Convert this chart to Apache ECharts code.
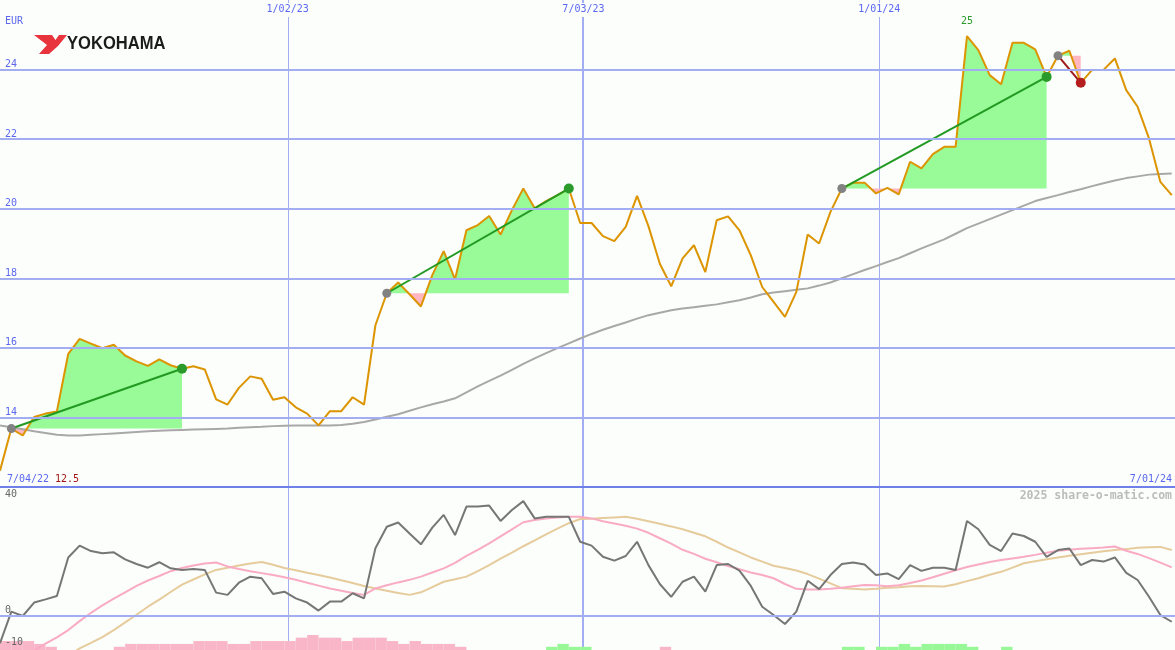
<!DOCTYPE html>
<html><head><meta charset="utf-8">
<script src="https://cdn.jsdelivr.net/npm/echarts@6/dist/echarts.min.js"></script>
<style>html,body{margin:0;padding:0;background:#fbfefb}#c{width:1175px;height:650px}</style>
</head><body><div id="c"></div>
<script>
// ---------- data ----------
const startDate = '2022-07-09';   // first weekly observation
const endDate = '2024-07-01';     // right edge of the time axis
const currency = 'EUR';
const rangeStartLabel = '7/04/22';
const rangeEndLabel = '7/01/24';
const copyright = '2025 share-o-matic.com';
const brand = 'YOKOHAMA';
const dateLines = ['2023-01-02', '2023-07-03', '2024-01-01'];
const dateLineLabels = ['1/02/23', '7/03/23', '1/01/24'];
const priceTicks = [14, 16, 18, 20, 22, 24];
const oscTicks = [40, 0, -10];

const price = [
  12.47, 13.68, 13.48, 14.01, 14.11, 14.17, 15.83, 16.26, 16.12, 15.99,
  16.09, 15.78, 15.61, 15.48, 15.67, 15.50, 15.40, 15.47, 15.38, 14.52,
  14.37, 14.85, 15.18, 15.11, 14.51, 14.58, 14.29, 14.11, 13.77, 14.18,
  14.18, 14.58, 14.37, 16.65, 17.57, 17.88, 17.54, 17.19, 18.09, 18.78,
  17.97, 19.38, 19.53, 19.79, 19.26, 19.96, 20.58, 20.01, 20.22, 20.39,
  20.58, 19.59, 19.59, 19.21, 19.07, 19.48, 20.37, 19.50, 18.42, 17.77,
  18.57, 18.95, 18.18, 19.67, 19.78, 19.38, 18.66, 17.75, 17.32, 16.89,
  17.61, 19.26, 19.00, 19.91, 20.58, 20.75, 20.75, 20.44, 20.60, 20.41,
  21.35, 21.16, 21.57, 21.78, 21.78, 24.96, 24.56, 23.84, 23.58, 24.77,
  24.77, 24.58, 23.79, 24.40, 24.54, 23.62, 23.99, 23.99, 24.32, 23.41,
  22.93, 22.02, 20.77, 20.39
];
const movingAvg = [
  13.77, 13.72, 13.66, 13.60, 13.55, 13.50, 13.48, 13.48, 13.50, 13.52,
  13.54, 13.56, 13.58, 13.60, 13.62, 13.63, 13.64, 13.65, 13.66, 13.67,
  13.68, 13.70, 13.72, 13.73, 13.75, 13.76, 13.77, 13.77, 13.77, 13.77,
  13.78, 13.82, 13.87, 13.94, 14.02, 14.09, 14.19, 14.29, 14.38, 14.46,
  14.55, 14.72, 14.89, 15.05, 15.20, 15.37, 15.54, 15.70, 15.85, 15.99,
  16.13, 16.27, 16.40, 16.52, 16.63, 16.73, 16.84, 16.94, 17.01, 17.08,
  17.13, 17.17, 17.21, 17.25, 17.31, 17.37, 17.45, 17.54, 17.59, 17.63,
  17.67, 17.71, 17.79, 17.88, 18.00, 18.12, 18.24, 18.35, 18.47, 18.58,
  18.72, 18.86, 18.99, 19.12, 19.28, 19.44, 19.57, 19.70, 19.83, 19.96,
  20.09, 20.22, 20.31, 20.39, 20.48, 20.56, 20.65, 20.73, 20.81, 20.88,
  20.93, 20.98, 21.00, 21.01
];
const momentum = [
  -8.5, 1.35, 0, 4.2, 5.2, 6.25, 18.3, 22, 20.3, 19.6,
  19.9, 17.7, 16.25, 15.1, 16.8, 14.9, 14.4, 14.7, 14.4, 7.3,
  6.6, 10.4, 12.3, 11.8, 6.9, 7.6, 5.5, 4.2, 1.7, 4.5,
  4.5, 7.1, 5.5, 21.2, 27.9, 29.2, 25.8, 22.4, 27.6, 31.6,
  25.3, 34.2, 34.2, 34.5, 29.7, 33.1, 35.9, 30.5, 31.0, 31.0,
  31.0, 23.2, 22.0, 18.5, 17.3, 18.75, 23.2, 15.9, 10.0, 6.0,
  10.7, 12.3, 7.6, 15.9, 16.25, 14.2, 9.4, 2.9, 0.3, -2.5,
  1.35, 11.0, 8.4, 12.8, 16.25, 16.7, 16.1, 12.8, 13.3, 11.5,
  15.9, 14.1, 15.1, 15.1, 14.4, 29.7, 27.1, 22.2, 20.3, 25.8,
  25.0, 23.2, 18.5, 20.6, 21.1, 15.9, 17.5, 17.0, 18.3, 13.5,
  11.25, 6.0, 0.3, -1.8
];
const fastAvg = [
  -15, -13.5, -12, -10.8, -8.6, -6.7, -4.4, -1.6, 1.0, 3.3,
  5.4, 7.4, 9.4, 11.1, 12.5, 14.0, 15.0, 15.8, 16.4, 16.7,
  15.5, 14.7, 14.0, 13.4, 12.8, 12.1, 11.3, 10.4, 9.5, 8.6,
  7.9, 7.2, 6.6, 8.6, 9.6, 10.5, 11.3, 12.3, 13.6, 14.9,
  16.6, 18.8, 20.7, 22.7, 24.9, 27.1, 29.3, 30.0, 30.5, 30.8,
  31.0, 31.0, 30.5, 29.6, 28.9, 28.2, 27.3, 26.0, 24.3, 22.6,
  20.7, 19.4, 17.9, 16.8, 15.6, 14.6, 13.6, 12.8, 11.8, 10.0,
  8.5, 8.3, 8.3, 8.5, 8.8, 9.3, 9.7, 9.6, 9.3, 9.6,
  10.3, 11.1, 12.1, 13.2, 14.3, 15.3, 16.1, 16.9, 17.5, 18.0,
  18.5, 19.1, 19.8, 20.4, 20.7, 21.0, 21.2, 21.4, 21.7, 20.4,
  19.4, 18.1, 16.7, 15.2
];
const slowAvg = [
  -22, -20.5, -19, -17.5, -16, -14.5, -12.5, -10.1, -8.4, -6.6,
  -4.4, -2.0, 0.4, 2.9, 5.1, 7.5, 9.8, 11.4, 13.0, 14.4,
  15.1, 15.8, 16.4, 16.9, 16.0, 15.0, 14.3, 13.5, 12.8, 12.0,
  11.2, 10.3, 9.4, 8.6, 7.9, 7.2, 6.6, 7.4, 9.0, 10.7,
  11.5, 12.3, 14.0, 15.9, 17.9, 19.8, 21.8, 23.6, 25.5, 27.3,
  29.0, 30.3, 30.4, 30.6, 30.8, 31.0, 30.4, 29.6, 28.8, 28.0,
  27.1, 26.0, 24.9, 23.2, 21.4, 19.9, 18.3, 17.0, 15.7, 15.0,
  14.2, 13.1, 11.7, 10.2, 8.7, 8.5, 8.3, 8.5, 8.8, 9.0,
  9.3, 9.4, 9.3, 9.2, 9.9, 10.9, 11.8, 12.9, 13.8, 15.1,
  16.5, 17.1, 17.7, 18.3, 18.8, 19.3, 19.8, 20.2, 20.6, 20.9,
  21.3, 21.5, 21.6, 20.6
];
const histogram = [
  -2.8, -2.8, -2.8, -1.9, -1.0, 0, 0, 0, 0, 0,
  -1.0, -1.9, -1.9, -1.9, -1.9, -1.9, -1.9, -2.8, -2.8, -2.8,
  -1.9, -1.9, -2.8, -2.8, -2.8, -2.8, -3.85, -4.7, -3.85, -3.85,
  -2.8, -3.85, -3.85, -3.85, -2.8, -1.9, -2.8, -1.9, -1.9, -1.9,
  -1.0, 0, 0, 0, 0, 0, 0, 0, 1.0, 1.9,
  1.0, 1.0, 0, 0, 0, 0, 0, 0, -1.0, 0,
  0, 0, 0, 0, 0, 0, 0, 0, 0, 0,
  0, 0, 0, 0, 1.0, 1.0, 0, 1.0, 1.0, 1.9,
  1.0, 1.9, 1.9, 1.9, 1.9, 1.0, 0, 0, 1.0, 0,
  0, 0, 0, 0, 0, 0, 0, 0, 0, 0,
  0, 0, 0, 0
];
const tradeStart = [1, 34, 74, 93];
const tradeEnd = [16, 50, 92, 95];

// ---------- helpers ----------
const DAY = 86400000, WEEK = 7 * DAY;
function ts(s) { const p = s.split('-').map(Number); return Date.UTC(p[0], p[1] - 1, p[2]); }
const T0 = ts(startDate), T1 = ts(endDate);
function weekTime(k) { return T0 + k * WEEK; }
const PRICE_MIN = 12, PRICE_MAX = 26;
const OSC_MIN = -10.625, OSC_MAX = 40;

const BG = '#fbfefb';
const BLUE = '#5b67ef';
const GRID = '#a3aef2';
const MONO = '"DejaVu Sans Mono", monospace';

function fmt1(v) { return String(parseFloat(v.toFixed(1))); }

function renderTradeFill(params, api) {
  const i = api.value(2);
  const s = tradeStart[i], e = tradeEnd[i];
  const base = price[s];
  const up = [], dn = [];
  for (let k = s; k <= e; k++) {
    const v = price[k];
    if (k > s) {
      const p = price[k - 1];
      if ((p - base) * (v - base) < 0) {
        const f = (base - p) / (v - p);
        const c = api.coord([weekTime(k - 1) + f * WEEK, base]);
        up.push(c); dn.push(c);
      }
    }
    up.push(api.coord([weekTime(k), Math.max(v, base)]));
    dn.push(api.coord([weekTime(k), Math.min(v, base)]));
  }
  const close = [api.coord([weekTime(e), base]), api.coord([weekTime(s), base])];
  return {
    type: 'group', children: [
      { type: 'polygon', shape: { points: up.concat(close) }, style: { fill: '#98fb98' } },
      { type: 'polygon', shape: { points: dn.concat(close) }, style: { fill: '#ffb6c1' } }
    ]
  };
}
function renderTradeMarks(params, api) {
  const i = api.value(2);
  const s = tradeStart[i], e = tradeEnd[i];
  const a = api.coord([weekTime(s), price[s]]);
  const b = api.coord([weekTime(e), price[e]]);
  const win = price[e] >= price[s];
  return {
    type: 'group', children: [
      { type: 'line', shape: { x1: a[0], y1: a[1], x2: b[0], y2: b[1] }, style: { stroke: win ? '#229a22' : '#9e1a1a', lineWidth: 2 } },
      { type: 'circle', shape: { cx: a[0], cy: a[1], r: 4.5 }, style: { fill: '#828282' } },
      { type: 'circle', shape: { cx: b[0], cy: b[1], r: 5 }, style: { fill: win ? '#2a9a2a' : '#b41e1e' } }
    ]
  };
}
function renderHist(params, api) {
  const k = api.value(2);
  const v = histogram[k];
  if (!v) return null;
  const p0 = api.coord([weekTime(k), OSC_MIN]);
  const p1 = api.coord([weekTime(k + 1), OSC_MIN + Math.abs(v)]);
  return { type: 'rect', shape: { x: p0[0], y: p1[1], width: p1[0] - p0[0], height: p0[1] - p1[1] },
           style: { fill: v > 0 ? '#98f898' : '#f9b6c9' } };
}
function makeVGrid(yMin, yMax) {
  return function (params, api) {
    const i = api.value(2);
    const w = i === 1 ? 2 : 1;
    const top = api.coord([api.value(0), yMax]);
    const bot = api.coord([api.value(0), yMin]);
    const x = w === 1 ? Math.round(top[0]) + 0.5 : Math.round(top[0]);
    return { type: 'line', shape: { x1: x, y1: top[1], x2: x, y2: bot[1] }, style: { stroke: GRID, lineWidth: w } };
  };
}

const chart = echarts.init(document.getElementById('c'), null, { renderer: 'canvas' });
const series = (arr) => arr.map((v, k) => [weekTime(k), v]);
const vgridData = (yv) => dateLines.map((d, i) => [ts(d), yv, i]);

const option = {
  animation: false,
  backgroundColor: BG,
  grid: [
    { left: 0, right: 0, top: 0, height: 487, outerBoundsMode: 'none' },
    { left: 0, right: 0, top: 488, height: 162, outerBoundsMode: 'none' }
  ],
  xAxis: [
    { type: 'time', gridIndex: 0, min: T0, max: T1,
      axisLine: { show: true, onZero: false, lineStyle: { color: '#7080ea', width: 2 } },
      axisTick: { show: false }, axisLabel: { show: false }, splitLine: { show: false } },
    { type: 'time', gridIndex: 1, min: T0, max: T1,
      axisLine: { show: false }, axisTick: { show: false }, axisLabel: { show: false }, splitLine: { show: false } }
  ],
  yAxis: [
    { type: 'value', gridIndex: 0, min: PRICE_MIN, max: PRICE_MAX, interval: 2, z: 10,
      axisLine: { show: false }, axisTick: { show: false },
      splitLine: { show: true, showMinLine: false, showMaxLine: false, lineStyle: { color: GRID, width: 2 } },
      axisLabel: { inside: true, margin: 5, verticalAlign: 'bottom', color: BLUE, fontFamily: MONO, fontSize: 10,
                   customValues: priceTicks } },
    { type: 'value', gridIndex: 1, min: OSC_MIN, max: OSC_MAX, z: 10,
      axisLine: { show: false }, axisTick: { show: false }, splitLine: { show: false },
      axisLabel: { inside: true, margin: 5, verticalAlign: 'middle', color: '#666', fontFamily: MONO, fontSize: 10,
                   customValues: oscTicks,
                   formatter: v => v === oscTicks[0] ? '{t|' + v + '}' : '{b|' + v + '}',
                   rich: {
                     t: { padding: [13, 0, 0, 0], color: '#666', fontFamily: MONO, fontSize: 10 },
                     b: { padding: [0, 0, 12, 0], color: '#666', fontFamily: MONO, fontSize: 10 }
                   } } }
  ],
  series: [
    { name: 'vgrid0', type: 'custom', xAxisIndex: 0, yAxisIndex: 0, z: 0, silent: true, clip: false,
      data: vgridData(PRICE_MAX), encode: { x: 0, y: 1 }, renderItem: makeVGrid(PRICE_MIN, PRICE_MAX) },
    { name: 'vgrid1', type: 'custom', xAxisIndex: 1, yAxisIndex: 1, z: 0, silent: true, clip: false,
      data: vgridData(OSC_MAX), encode: { x: 0, y: 1 }, renderItem: makeVGrid(OSC_MIN, OSC_MAX) },
    { name: 'zero', type: 'line', xAxisIndex: 1, yAxisIndex: 1, data: [], z: 0, silent: true,
      markLine: { silent: true, symbol: ['none', 'none'], label: { show: false },
        data: [{ yAxis: 0, lineStyle: { color: GRID, width: 2, type: 'solid' } }] } },
    { name: 'tradeFill', type: 'custom', xAxisIndex: 0, yAxisIndex: 0, z: 1, silent: true, clip: true,
      data: tradeStart.map((s, i) => [weekTime(s), price[s], i]), encode: { x: 0, y: 1 },
      renderItem: renderTradeFill },
    { name: 'ma', type: 'line', xAxisIndex: 0, yAxisIndex: 0, z: 2, data: series(movingAvg),
      symbol: 'none', lineStyle: { color: '#a8a8a8', width: 2 } },
    { name: 'price', type: 'line', xAxisIndex: 0, yAxisIndex: 0, z: 3, data: series(price),
      symbol: 'none', lineStyle: { color: '#dc9400', width: 2 },
      markPoint: { silent: true, symbolSize: 0,
        data: [{ type: 'max' }],
        label: { show: true, position: 'top', distance: 10, color: '#2a9a2a', fontFamily: MONO, fontSize: 10,
                 formatter: p => fmt1(p.value) } } },
    { name: 'tradeMarks', type: 'custom', xAxisIndex: 0, yAxisIndex: 0, z: 4, silent: true, clip: true,
      data: tradeStart.map((s, i) => [weekTime(s), price[s], i]), encode: { x: 0, y: 1 },
      renderItem: renderTradeMarks },
    { name: 'dateLabels', type: 'line', xAxisIndex: 0, yAxisIndex: 0, data: [], z: 10, silent: true,
      markPoint: { silent: true, symbolSize: 0,
        data: dateLines.map((d, i) => ({ coord: [ts(d), PRICE_MAX], name: dateLineLabels[i] })),
        label: { show: true, position: 'bottom', distance: 3, formatter: '{b}', color: BLUE, fontFamily: MONO, fontSize: 10,
                 backgroundColor: BG, padding: [1, 2, 3, 2] } } },
    { name: 'hist', type: 'custom', xAxisIndex: 1, yAxisIndex: 1, z: 1, silent: true, clip: true,
      data: histogram.map((v, k) => [weekTime(k), v, k]), encode: { x: 0, y: 1 },
      renderItem: renderHist },
    { name: 'slow', type: 'line', xAxisIndex: 1, yAxisIndex: 1, z: 2, data: series(slowAvg),
      symbol: 'none', lineStyle: { color: '#e6cb9c', width: 2 } },
    { name: 'fast', type: 'line', xAxisIndex: 1, yAxisIndex: 1, z: 3, data: series(fastAvg),
      symbol: 'none', lineStyle: { color: '#f9abc4', width: 2 } },
    { name: 'momentum', type: 'line', xAxisIndex: 1, yAxisIndex: 1, z: 4, data: series(momentum),
      symbol: 'none', lineStyle: { color: '#767676', width: 2 } }
  ],
  graphic: [
    { type: 'text', x: 5, y: 21, silent: true,
      style: { text: currency, fill: BLUE, font: '10px ' + MONO, verticalAlign: 'middle', textVerticalAlign: 'middle' } },
    { type: 'text', x: 7, y: 479, silent: true,
      style: { text: rangeStartLabel, fill: BLUE, font: '10px ' + MONO, verticalAlign: 'middle', textVerticalAlign: 'middle' } },
    { type: 'text', x: 55, y: 479, silent: true,
      style: { text: fmt1(Math.min.apply(null, price)), fill: '#a31616', font: '10px ' + MONO, verticalAlign: 'middle', textVerticalAlign: 'middle' } },
    { type: 'text', x: 1172, y: 479, silent: true,
      style: { text: rangeEndLabel, fill: BLUE, font: '10px ' + MONO, align: 'right', textAlign: 'right', verticalAlign: 'middle', textVerticalAlign: 'middle' } },
    { type: 'text', x: 1172, y: 496, silent: true,
      style: { text: copyright, fill: '#bcbcbc', font: 'bold 11.5px ' + MONO, align: 'right', textAlign: 'right', verticalAlign: 'middle', textVerticalAlign: 'middle' } },
    { type: 'polygon', silent: true,
      shape: { points: [[34,35],[52,35],[55.5,40],[59,35],[67,35],[58,46],[49,54],[39,54],[47,45]] },
      style: { fill: '#e8343c' } },
    { type: 'text', x: 67, y: 44, scaleX: 0.92, originX: 0, silent: true,
      style: { text: brand, fill: '#1b1b1b', font: 'bold 18px "Liberation Sans", Arial, sans-serif', verticalAlign: 'middle', textVerticalAlign: 'middle' } }
  ]
};
chart.setOption(option);
</script>
</body></html>
